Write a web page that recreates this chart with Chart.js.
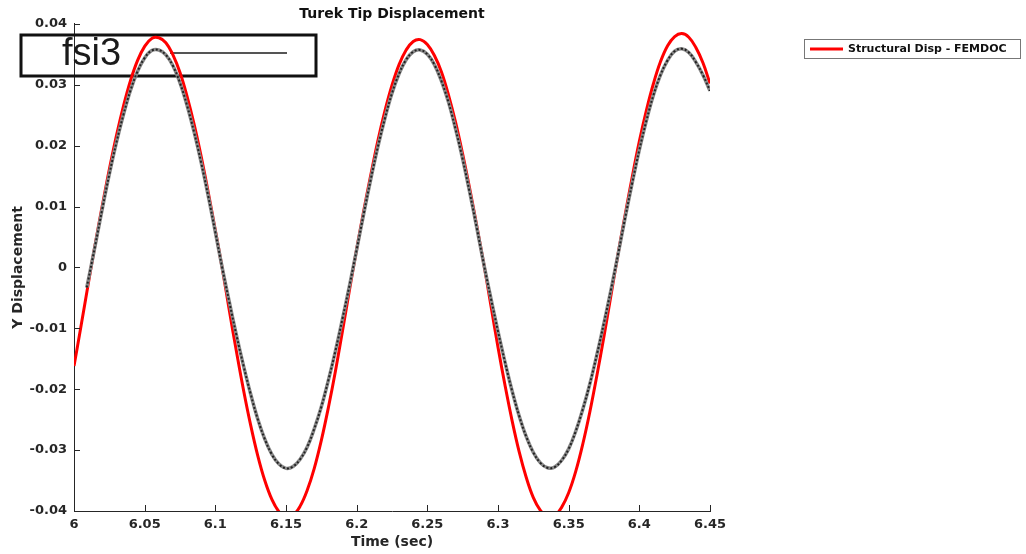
<!DOCTYPE html>
<html>
<head>
<meta charset="utf-8">
<title>Turek Tip Displacement</title>
<script src="https://cdn.jsdelivr.net/npm/chart.js@4.4.1/dist/chart.umd.min.js"></script>
<style>
  html, body { margin: 0; padding: 0; background: #fff; }
</style>
</head>
<body>
<canvas id="tipChart" width="1026" height="554"></canvas>
<script>
// sample times (sec), every 5 ms
const time = [
  6.000, 6.005, 6.010, 6.015, 6.020, 6.025, 6.030, 6.035, 6.040, 6.045,
  6.050, 6.055, 6.060, 6.065, 6.070, 6.075, 6.080, 6.085, 6.090, 6.095,
  6.100, 6.105, 6.110, 6.115, 6.120, 6.125, 6.130, 6.135, 6.140, 6.145,
  6.150, 6.155, 6.160, 6.165, 6.170, 6.175, 6.180, 6.185, 6.190, 6.195,
  6.200, 6.205, 6.210, 6.215, 6.220, 6.225, 6.230, 6.235, 6.240, 6.245,
  6.250, 6.255, 6.260, 6.265, 6.270, 6.275, 6.280, 6.285, 6.290, 6.295,
  6.300, 6.305, 6.310, 6.315, 6.320, 6.325, 6.330, 6.335, 6.340, 6.345,
  6.350, 6.355, 6.360, 6.365, 6.370, 6.375, 6.380, 6.385, 6.390, 6.395,
  6.400, 6.405, 6.410, 6.415, 6.420, 6.425, 6.430, 6.435, 6.440, 6.445,
  6.450
];

// FEMDOC structural tip displacement
const femdocDisp = [
  -0.0162, -0.0096, -0.0028, 0.0038, 0.0101, 0.0161, 0.0216, 0.0265, 0.0307, 0.0340,
  0.0363, 0.0376, 0.0377, 0.0369, 0.0349, 0.0320, 0.0281, 0.0235, 0.0182, 0.0123,
  0.0061, -0.0003, -0.0072, -0.0139, -0.0202, -0.0259, -0.0309, -0.0350, -0.0381, -0.0401,
  -0.0410, -0.0407, -0.0392, -0.0366, -0.0330, -0.0284, -0.0230, -0.0170, -0.0104, -0.0036,
  0.0030, 0.0093, 0.0152, 0.0208, 0.0257, 0.0299, 0.0333, 0.0357, 0.0371, 0.0374,
  0.0366, 0.0348, 0.0321, 0.0283, 0.0238, 0.0186, 0.0129, 0.0068, 0.0005, -0.0063,
  -0.0131, -0.0194, -0.0252, -0.0303, -0.0345, -0.0378, -0.0399, -0.0409, -0.0408, -0.0394,
  -0.0370, -0.0335, -0.0290, -0.0237, -0.0177, -0.0113, -0.0045, 0.0023, 0.0087, 0.0149,
  0.0207, 0.0258, 0.0302, 0.0338, 0.0364, 0.0379, 0.0384, 0.0378, 0.0361, 0.0336,
  0.0302
];

// fsi3 reference curve, starts slightly after t = 6
const fsiTime = [6.009].concat(time.slice(2));
const fsiDisp = [
  -0.0033, -0.0022, 0.0036, 0.0096, 0.0153, 0.0205, 0.0251, 0.0291, 0.0322,
  0.0344, 0.0356, 0.0357, 0.0349, 0.0331, 0.0303, 0.0266, 0.0222, 0.0172, 0.0117,
  0.0058, -0.0002, -0.0058, -0.0112, -0.0162, -0.0208, -0.0249, -0.0282, -0.0307, -0.0323,
  -0.0330, -0.0327, -0.0315, -0.0295, -0.0265, -0.0229, -0.0185, -0.0137, -0.0084, -0.0029,
  0.0029, 0.0088, 0.0145, 0.0198, 0.0245, 0.0286, 0.0318, 0.0341, 0.0354, 0.0357,
  0.0350, 0.0333, 0.0306, 0.0271, 0.0227, 0.0178, 0.0123, 0.0065, 0.0005, -0.0051,
  -0.0105, -0.0156, -0.0203, -0.0244, -0.0278, -0.0304, -0.0321, -0.0329, -0.0328, -0.0317,
  -0.0298, -0.0269, -0.0233, -0.0191, -0.0143, -0.0091, -0.0036, 0.0022, 0.0082, 0.0139,
  0.0193, 0.0241, 0.0283, 0.0316, 0.0340, 0.0355, 0.0359, 0.0353, 0.0337, 0.0316,
  0.0290
];

const xTicks = [6, 6.05, 6.1, 6.15, 6.2, 6.25, 6.3, 6.35, 6.4, 6.45];
const xTickLabels = ['6', '6.05', '6.1', '6.15', '6.2', '6.25', '6.3', '6.35', '6.4', '6.45'];
const yTicks = [-0.04, -0.03, -0.02, -0.01, 0, 0.01, 0.02, 0.03, 0.04];
const yTickLabels = ['-0.04', '-0.03', '-0.02', '-0.01', '0', '0.01', '0.02', '0.03', '0.04'];

const axisColor = '#262626';
const textColor = '#262626';
const boldFont = (size) => ({ family: '"DejaVu Sans"', size: size, weight: 'bold' });

const toPoints = (xs, ys) => xs.map((x, i) => ({ x: x, y: ys[i] }));

// small tick marks pointing into the plot area
const inwardTicks = {
  id: 'inwardTicks',
  afterDatasetsDraw(chart) {
    const { ctx, chartArea, scales } = chart;
    ctx.save();
    ctx.strokeStyle = axisColor;
    ctx.lineWidth = 1;
    ctx.beginPath();
    xTicks.forEach(v => {
      const px = Math.round(scales.x.getPixelForValue(v)) + 0.5;
      ctx.moveTo(px, chartArea.bottom);
      ctx.lineTo(px, chartArea.bottom - 6);
    });
    yTicks.forEach(v => {
      const py = Math.round(scales.y.getPixelForValue(v)) + 0.5;
      ctx.moveTo(chartArea.left, py);
      ctx.lineTo(chartArea.left + 6, py);
    });
    ctx.stroke();
    ctx.restore();
  }
};

// boxed "fsi3" key sitting over the top-left of the plot
const fsiKey = {
  id: 'fsiKey',
  beforeDatasetsDraw(chart) {
    const ctx = chart.ctx;
    ctx.save();
    ctx.strokeStyle = '#111';
    ctx.lineWidth = 3;
    ctx.strokeRect(21, 35, 295, 41);
    ctx.fillStyle = '#1a1a1a';
    ctx.font = '38px "Liberation Sans"';
    ctx.textBaseline = 'alphabetic';
    ctx.fillText('fsi3', 62, 65);
    ctx.strokeStyle = '#555';
    ctx.lineWidth = 2;
    ctx.beginPath();
    ctx.moveTo(170, 53);
    ctx.lineTo(287, 53);
    ctx.stroke();
    ctx.restore();
  }
};

// legend box at the upper right for the FEMDOC curve
const sideLegend = {
  id: 'sideLegend',
  afterDraw(chart) {
    const ctx = chart.ctx;
    const ds = chart.data.datasets[2];
    ctx.save();
    ctx.fillStyle = '#fff';
    ctx.fillRect(804, 39, 216, 19);
    ctx.strokeStyle = '#777';
    ctx.lineWidth = 1;
    ctx.strokeRect(804.5, 39.5, 216, 19);
    ctx.strokeStyle = ds.borderColor;
    ctx.lineWidth = 3;
    ctx.beginPath();
    ctx.moveTo(810, 49);
    ctx.lineTo(843, 49);
    ctx.stroke();
    ctx.fillStyle = '#111';
    ctx.font = 'bold 11px "DejaVu Sans"';
    ctx.textBaseline = 'middle';
    ctx.fillText(ds.label, 848, 49.5);
    ctx.restore();
  }
};

const ctx = document.getElementById('tipChart').getContext('2d');
new Chart(ctx, {
  type: 'line',
  data: {
    datasets: [
      {
        label: 'fsi3',
        data: toPoints(fsiTime, fsiDisp),
        borderColor: '#222',
        borderWidth: 2,
        borderDash: [2, 2],
        pointRadius: 0,
        tension: 0.4,
        fill: false,
        clip: 0
      },
      {
        label: 'fsi3 halo',
        data: toPoints(fsiTime, fsiDisp),
        borderColor: '#8a8a8a',
        borderWidth: 3.5,
        pointRadius: 0,
        tension: 0.4,
        fill: false,
        clip: 0
      },
      {
        label: 'Structural Disp - FEMDOC',
        data: toPoints(time, femdocDisp),
        borderColor: '#ff0000',
        borderWidth: 3,
        pointRadius: 0,
        tension: 0.4,
        fill: false,
        clip: 0
      }
    ]
  },
  options: {
    responsive: false,
    animation: false,
    layout: { padding: { left: 0, right: 316, top: 0, bottom: 0 } },
    plugins: {
      legend: { display: false },
      tooltip: { enabled: false },
      title: {
        display: true,
        text: 'Turek Tip Displacement',
        fullSize: false,
        color: '#111',
        font: boldFont(14),
        padding: { top: 6, bottom: 1 }
      }
    },
    scales: {
      x: {
        type: 'linear',
        min: 6,
        max: 6.45,
        afterBuildTicks: s => { s.ticks = xTicks.map(v => ({ value: v })); },
        afterFit: s => { s.height = 43; },
        grid: { drawOnChartArea: false, drawTicks: false },
        border: { color: axisColor, width: 1 },
        ticks: {
          padding: 6,
          color: textColor,
          font: boldFont(13),
          maxRotation: 0,
          autoSkip: false,
          callback: (v, i) => xTickLabels[i]
        },
        title: {
          display: true,
          text: 'Time (sec)',
          color: textColor,
          font: boldFont(14),
          padding: { top: 0, bottom: 3 }
        }
      },
      y: {
        type: 'linear',
        min: -0.04,
        max: 0.04,
        afterBuildTicks: s => { s.ticks = yTicks.map(v => ({ value: v })); },
        afterFit: s => { s.width = 74; },
        grid: { drawOnChartArea: false, drawTicks: false },
        border: { color: axisColor, width: 1 },
        ticks: {
          padding: 7,
          color: textColor,
          font: boldFont(13),
          autoSkip: false,
          callback: (v, i) => yTickLabels[i]
        },
        title: {
          display: true,
          text: 'Y Displacement',
          color: textColor,
          font: boldFont(14),
          padding: { top: 10, bottom: 0 }
        }
      }
    }
  },
  plugins: [inwardTicks, fsiKey, sideLegend]
});
</script>
</body>
</html>
